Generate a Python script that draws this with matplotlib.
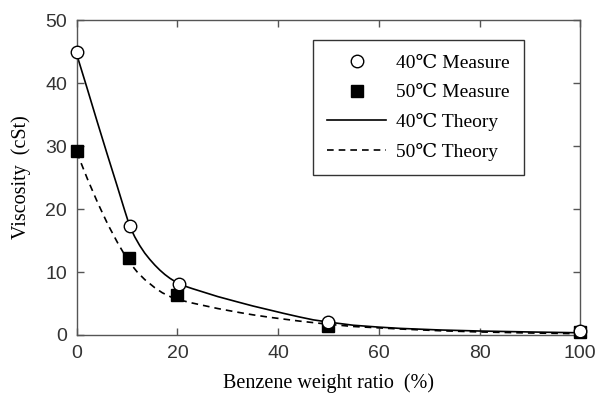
import matplotlib.pyplot as plt

# measured points
x40 = [0, 10.5, 20.4, 50, 100]
y40 = [45.0, 17.3, 8.1, 2.1, 0.6]
x50 = [0, 10.4, 20.0, 50, 100]
y50 = [29.2, 12.2, 6.3, 1.5, 0.4]

# theory curves
tx40 = [0, 2, 4, 6, 8, 9.5, 10.5, 11.5, 12.5, 13.5, 14.5, 15.5, 16.5, 17.5, 18.5, 19.5,
        21.5, 23, 25, 28, 31.7, 35, 38.4, 41, 44.3, 47, 50, 54.9, 60, 64.2, 72, 80.1, 90, 100]
ty40 = [44.5, 39.3, 34.0, 28.8, 23.7, 19.8, 17.3, 15.6, 14.2, 13.0, 12.0, 11.1, 10.3, 9.6, 9.0, 8.5,
        7.75, 7.35, 6.85, 6.1, 5.3, 4.6, 3.95, 3.45, 2.85, 2.4, 2.05, 1.55, 1.25, 1.05, 0.8, 0.63, 0.48, 0.35]
tx50 = [0, 1, 2.2, 4.2, 6.2, 8.2, 10.2, 12, 13.5, 15.5, 17, 18.8, 20.5, 22.8, 25.1, 28,
        31.7, 35, 38.4, 44.3, 50, 54.9, 64.2, 72, 80.1, 90, 100]
ty50 = [29.0, 27.0, 24.6, 20.9, 17.5, 14.5, 11.8, 10.0, 8.8, 7.5, 6.7, 6.0, 5.55, 5.1, 4.7, 4.2,
        3.65, 3.2, 2.8, 2.2, 1.7, 1.35, 0.95, 0.68, 0.48, 0.32, 0.2]

serif = ['Liberation Serif', 'DejaVu Serif']
sans = 'Liberation Sans'

fig = plt.figure(figsize=(6, 3.93), dpi=100)
ax = fig.add_axes([0.128, 0.1476, 0.839, 0.8014])

ax.plot(tx40, ty40, color='black', lw=1.2, label='40℃ Theory')
ax.plot(tx50, ty50, color='black', lw=1.2, ls=(0, (4, 3)), label='50℃ Theory')
ax.plot(x40, y40, 'o', ms=9, mfc='white', mec='black', mew=1, clip_on=False, zorder=5, label='40℃ Measure')
ax.plot(x50, y50, 's', ms=9, mfc='black', mec='black', mew=1, clip_on=False, zorder=4, label='50℃ Measure')

ax.set_xlim(0, 100)
ax.set_ylim(0, 50)
ax.set_xticks([0, 20, 40, 60, 80, 100])
ax.set_yticks([0, 10, 20, 30, 40, 50])
ax.tick_params(direction='in', length=5, width=1, color='#555555', top=True, right=True,
               labelsize=14, labelcolor='#333333', pad=7)
for lab in ax.get_xticklabels() + ax.get_yticklabels():
    lab.set_family(sans)
for sp in ax.spines.values():
    sp.set_color('#555555')
    sp.set_linewidth(1)

ax.set_xlabel('Benzene weight ratio  (%)', family=serif, fontsize=14.5, labelpad=8)
ax.set_ylabel('Viscosity  (cSt)', family=serif, fontsize=14.5, labelpad=10)

h, l = ax.get_legend_handles_labels()
order = [2, 3, 0, 1]
leg = ax.legend([h[i] for i in order], [l[i] for i in order], loc='upper left',
                bbox_to_anchor=(0.469, 0.937), borderaxespad=0, frameon=True, fancybox=False,
                edgecolor='black', handlelength=3.0, labelspacing=0.6,
                borderpad=0.75, handletextpad=0.5,
                prop={'family': serif, 'size': 14})
leg.get_frame().set_linewidth(1)

fig.savefig('out.png', dpi=100)
